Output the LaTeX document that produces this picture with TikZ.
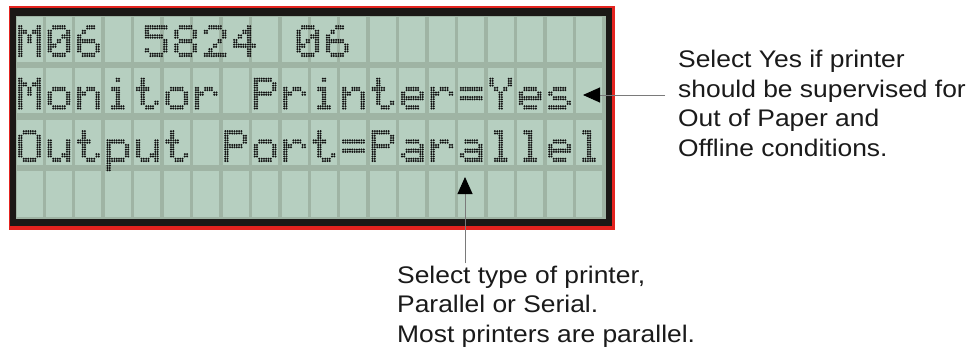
\documentclass[tikz,border=0pt]{standalone}
\usepackage{fontspec}
\setmainfont{Liberation Sans}
\usetikzlibrary{arrows.meta}
\definecolor{lcdred}{HTML}{E4231F}
\definecolor{lcdframe}{HTML}{1B1816}
\definecolor{lcdgap}{HTML}{9FB4A4}
\definecolor{lcdcell}{HTML}{B6CFC0}
\definecolor{lcddotc}{HTML}{101010}
\definecolor{txtc}{HTML}{1A1A1A}
\definecolor{linec}{HTML}{7A7A7A}
\newcommand\defglyph[2]{\expandafter\def\csname glyph-#1\endcsname{#2}}
\defglyph{M}{17,27,21,21,17,17,17}
\defglyph{Z}{14,17,19,21,25,17,14}
\defglyph{6}{6,8,16,30,17,17,14}
\defglyph{5}{31,16,30,1,1,17,14}
\defglyph{8}{14,17,17,14,17,17,14}
\defglyph{2}{14,17,1,2,4,8,31}
\defglyph{4}{2,6,10,18,31,2,2}
\defglyph{o}{0,0,14,17,17,17,14}
\defglyph{n}{0,0,22,25,17,17,17}
\defglyph{i}{4,0,12,4,4,4,14}
\defglyph{t}{8,8,28,8,8,9,6}
\defglyph{r}{0,0,22,25,16,16,16}
\defglyph{P}{30,17,17,30,16,16,16}
\defglyph{e}{0,0,14,17,31,16,14}
\defglyph{eq}{0,0,31,0,31,0,0}
\defglyph{Y}{17,17,10,4,4,4,4}
\defglyph{s}{0,0,14,16,14,1,30}
\defglyph{O}{14,17,17,17,17,17,14}
\defglyph{u}{0,0,17,17,17,19,13}
\defglyph{p}{0,0,30,17,17,17,30,16,16}
\defglyph{a}{0,0,14,1,15,17,15}
\defglyph{l}{12,4,4,4,4,4,14}
\newcommand\lcdput[3]{%
  \pgfmathsetmacro\gx{18+29.45*(#1)}%
  \pgfmathsetmacro\gy{25+52.5*(#2)}%
  \edef\glist{\csname glyph-#3\endcsname}%
  \foreach \rv [count=\i from 0] in \glist {%
    \foreach \j in {0,...,4} {%
      \pgfmathtruncatemacro\bit{mod(floor(\rv/(2^(4-\j))),2)}%
      \ifnum\bit=1
        \foreach \a in {1.15,3.45}{\foreach \b in {1.15,3.45}{%
          \fill[lcddot] (\gx+4.6*\j+\a, -\gy-4.6*\i-\b) circle (1.12);}}%
      \fi
    }}}
\tikzset{
  lcddot/.style={fill=lcddotc},
  lcdcellbox/.style={fill=lcdcell},
  conn/.style={draw=linec, line width=0.9pt, -{Triangle[length=17pt,width=15pt,black]}},
  note/.style={anchor=base west, inner sep=0pt, text=txtc,
    font=\fontsize{24}{29.5}\selectfont},
}
\begin{document}
\begin{tikzpicture}[x=1pt,y=1pt]
\useasboundingbox (0,0) rectangle (972,-350);
\fill[white] (0,0) rectangle (972,-350);
% LCD frame
\fill[lcdred] (8.5,-6.5) rectangle (614.5,-229.5);
\fill[lcdframe] (10,-8) rectangle (611.5,-226);
\fill[lcdgap] (16,-16) rectangle (606,-219);
\foreach \c in {0,...,19}
  \foreach \r in {0,...,3}
    \fill[lcdcellbox] ({16.5+29.45*\c},{-17-51.5*\r}) rectangle ++(26,-45);
% characters
\foreach \c/\g in {0/M,1/Z,2/6,4.3/5,5.3/8,6.3/2,7.3/4,9.45/Z,10.45/6}
  {\lcdput{\c}{0}{\g}}
\foreach \c/\g in {0/M,1/o,2/n,3/i,4/t,5/o,6/r,8/P,9/r,10/i,11/n,12/t,13/e,14/r,15/eq,16/Y,17/e,18/s}
  {\lcdput{\c}{1}{\g}}
\foreach \c/\g in {0/O,1/u,2/t,3/p,4/u,5/t,7/P,8/o,9/r,10/t,11/eq,12/P,13/a,14/r,15/a,16/l,17/l,18/e,19/l}
  {\lcdput{\c}{2}{\g}}
% notes
\node[note] (rtext) at (678,-68) {\scalebox{1.1}[1]{\begin{tabular}[t]{@{}l@{}}Select Yes if printer\\should be supervised for\\Out of Paper and\\Offline conditions.\end{tabular}}};
\node[note] (btext) at (397,-283) {\scalebox{1.1}[1]{\begin{tabular}[t]{@{}l@{}}Select type of printer,\\Parallel or Serial.\\Most printers are parallel.\end{tabular}}};
% connectors
\coordinate (startA) at (665,-95);
\coordinate (tipA) at (583,-95);
\coordinate (startB) at (465,-263);
\coordinate (tipB) at (465,-177);
\draw[conn] (startA) -- (tipA);
\draw[conn] (startB) -- (tipB);
\end{tikzpicture}
\end{document}
